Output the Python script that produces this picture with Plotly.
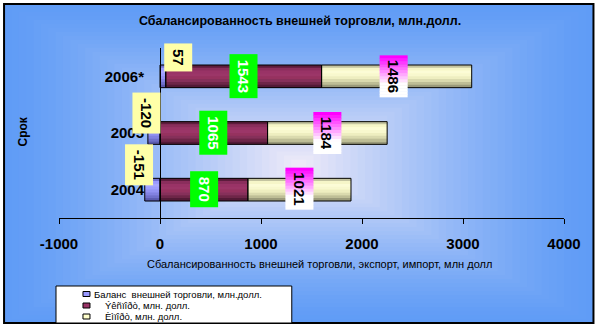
import plotly.graph_objects as go

# ---------------- data ----------------
years = ["2004", "2005", "2006*"]
balance = [-151, -120, 57]
export = [870, 1065, 1543]
imports = [1021, 1184, 1486]

title_text = "Сбалансированность внешней торговли, млн.долл."
x_title = "Сбалансированность внешней торговли, экспорт, импорт, млн долл"
y_title = "Срок"
legend_names = ["Баланс  внешней торговли, млн.долл.",
                "Ýêñïîðò, млн. долл.",
                "Èìïîðò, млн. долл."]
x_ticks = [-1000, 0, 1000, 2000, 3000, 4000]

# ---------------- styles ----------------
W, H = 599, 328
L, R, T, B = 59, 34.5, 48, 110
PW, PH = W - L - R, H - T - B
FONT = "Liberation Sans, Arial, sans-serif"
c_bal, c_exp, c_imp = "#9999ff", "#993366", "#ffffcc"
BAR_W = 0.4

# vertical shading profile of the bars (top -> bottom)
shade = {
    "bal": ["#7070d0", "#9a9aff", "#a8a8ff", "#9e9eff", "#9292f2", "#8282e2", "#7070cc", "#5a5aae"],
    "exp": ["#5c1c3c", "#8a2e5c", "#993366", "#9c3668", "#96325f", "#86305a", "#6e2648", "#521a36"],
    "imp": ["#c4c4a0", "#f6f6c8", "#fcfcd6", "#f8f8ce", "#eeeec0", "#dadaae", "#bebe96", "#9a9a7a"],
}


def px(xp):
    return (xp - L) / PW


def py(yp):
    return (H - B - yp) / PH


fig = go.Figure()
series = [(balance, "bal", c_bal), (export, "exp", c_exp), (imports, "imp", c_imp)]

# base bars
for vals, key, col in series:
    fig.add_trace(go.Bar(y=years, x=vals, orientation="h", width=BAR_W,
                         marker=dict(color=col, line=dict(width=0)),
                         showlegend=False, hoverinfo="skip"))

nb = len(shade["bal"])
bw = BAR_W / nb
axis_common = dict(type="category", categoryorder="array", categoryarray=years,
                   range=[-0.5, 2.5], overlaying="y", visible=False,
                   anchor="free", position=0.2)
extra_axes = {}
for k in range(nb):
    ax_id = k + 2
    off = BAR_W / 2 - (k + 1) * bw
    for vals, key, col in series:
        fig.add_trace(go.Bar(y=years, x=vals, orientation="h", width=bw * 1.08,
                             offset=off - bw * 0.04, yaxis="y%d" % ax_id,
                             marker=dict(color=shade[key][k], line=dict(width=0)),
                             showlegend=False, hoverinfo="skip"))
    extra_axes["yaxis%d" % ax_id] = dict(axis_common)
# outlines on top
out_id = nb + 2
for vals, key, col in series:
    fig.add_trace(go.Bar(y=years, x=vals, orientation="h", width=BAR_W,
                         yaxis="y%d" % out_id,
                         marker=dict(color="rgba(0,0,0,0)", line=dict(color="black", width=1)),
                         showlegend=False, hoverinfo="skip"))
extra_axes["yaxis%d" % out_id] = dict(axis_common)

shapes = []
# background: rectangular gradient inside the frame
x_l, x_r, y_t, y_b = 4, 594, 4, 323
cx, cy = (x_l + x_r) / 2, (y_t + y_b) / 2
outer = (96, 156, 246)
inner = (242, 236, 248)
N = 40
for i in range(N):
    t = i / N
    f = t ** 1.35
    col = tuple(int(round(outer[k] + (inner[k] - outer[k]) * f)) for k in range(3))
    s = 1 - t
    shapes.append(dict(type="rect", xref="paper", yref="paper", layer="below",
                       x0=px(cx - (cx - x_l) * s), x1=px(cx + (x_r - cx) * s),
                       y0=py(cy + (y_b - cy) * s), y1=py(cy - (cy - y_t) * s),
                       line=dict(width=0), fillcolor="rgb(%d,%d,%d)" % col))
# frame
shapes.append(dict(type="rect", xref="paper", yref="paper", layer="above",
                   x0=px(x_l), x1=px(x_r), y0=py(y_b), y1=py(y_t),
                   line=dict(color="black", width=2), fillcolor="rgba(0,0,0,0)"))

annotations = []
lab_font = dict(family=FONT, size=15, color="black", weight="bold")

# balance labels (yellow)
bal_shift = [(-13, 24.5), (-7, 20), (15, 18.5)]
for i, v in enumerate(balance):
    annotations.append(dict(x=v / 2, y=i, xref="x", yref="y", text=str(v),
                            textangle=90, showarrow=False, bgcolor="#ffffa8",
                            borderpad=5, font=lab_font,
                            xanchor="center", yanchor="middle",
                            xshift=bal_shift[i][0], yshift=bal_shift[i][1]))
# export labels (green)
for i, v in enumerate(export):
    start = max(balance[i], 0)
    annotations.append(dict(x=start + v / 2, y=i, xref="x", yref="y", text=str(v),
                            textangle=90, showarrow=False, bgcolor="#00ff00",
                            borderpad=5, font=dict(lab_font, color="white"),
                            xanchor="center", yanchor="middle"))
# import labels (magenta -> white gradient)
imp_shift = [(0, 1), (0, 0), (-3, 0)]
for i, v in enumerate(imports):
    start = max(balance[i], 0) + export[i]
    xm = start + v / 2
    dx, dy = imp_shift[i]
    hw, hh = 14, 21
    nst = 14
    for k in range(nst):
        fr = k / (nst - 1)
        g = min(fr / 0.7, 1.0)
        col = (255, int(255 * g), 255)
        y1 = dy + hh - k * (2 * hh / nst)
        y0 = y1 - (2 * hh / nst) - 0.5
        shapes.append(dict(type="rect", xref="x", yref="y", layer="above",
                           xsizemode="pixel", ysizemode="pixel",
                           xanchor=xm, yanchor=i,
                           x0=dx - hw, x1=dx + hw, y0=max(y0, dy - hh), y1=y1,
                           line=dict(width=0), fillcolor="rgb(%d,%d,%d)" % col))
    annotations.append(dict(x=xm, y=i, xref="x", yref="y", text=str(v),
                            textangle=90, showarrow=False,
                            xanchor="center", yanchor="middle",
                            font=lab_font, xshift=dx, yshift=dy))

# axis titles
annotations.append(dict(x=px(320), y=py(264), xref="paper", yref="paper",
                        xanchor="center", yanchor="middle",
                        text=x_title, showarrow=False,
                        font=dict(family=FONT, size=11, color="black")))
annotations.append(dict(x=px(22), y=py(131.5), xref="paper", yref="paper",
                        xanchor="center", yanchor="middle",
                        text=y_title, showarrow=False, textangle=-90,
                        font=dict(family=FONT, size=12, color="black", weight="bold")))

# legend (drawn manually to match the compact original box)
shapes.append(dict(type="rect", xref="paper", yref="paper", layer="above",
                   x0=px(56), x1=px(292), y0=py(323), y1=py(286),
                   line=dict(color="black", width=1), fillcolor="white"))
leg_y = [294, 305.5, 316.5]
leg_tx = [92, 103, 103]
for i, (name, col) in enumerate(zip(legend_names, [c_bal, c_exp, c_imp])):
    shapes.append(dict(type="rect", xref="paper", yref="paper", layer="above",
                       x0=px(83), x1=px(90), y0=py(leg_y[i] + 2.5), y1=py(leg_y[i] - 2.5),
                       line=dict(color="black", width=1), fillcolor=col))
    annotations.append(dict(x=px(leg_tx[i]), y=py(leg_y[i]), xref="paper", yref="paper",
                            xanchor="left", yanchor="middle", text=name, showarrow=False,
                            font=dict(family=FONT, size=9.5, color="black")))

fig.update_layout(
    width=W, height=H, autosize=False,
    margin=dict(l=L, r=R, t=T, b=B, pad=0),
    paper_bgcolor="white", plot_bgcolor="rgba(0,0,0,0)",
    barmode="relative",
    title=dict(text=title_text, x=300 / W, xanchor="center", y=1 - 21 / H,
               yanchor="middle", font=dict(family=FONT, size=12.5, color="black",
                                           weight="bold")),
    xaxis=dict(range=[-1000, 4000], tickvals=x_ticks,
               ticktext=[str(v) for v in x_ticks],
               showgrid=False, zeroline=False,
               showline=True, linecolor="black", linewidth=1,
               ticks="outside", ticklen=5, tickcolor="black",
               ticklabelstandoff=7,
               tickfont=dict(family=FONT, size=15, color="black", weight="bold")),
    yaxis=dict(type="category", categoryorder="array", categoryarray=years,
               range=[-0.5, 2.5], showgrid=False, zeroline=False,
               anchor="free", position=0.2,
               showline=True, linecolor="black", linewidth=1, ticks="",
               ticklabelstandoff=13,
               tickfont=dict(family=FONT, size=15, color="black", weight="bold")),
    shapes=shapes, annotations=annotations, showlegend=False,
    **extra_axes,
)

fig.write_html("out.html")
